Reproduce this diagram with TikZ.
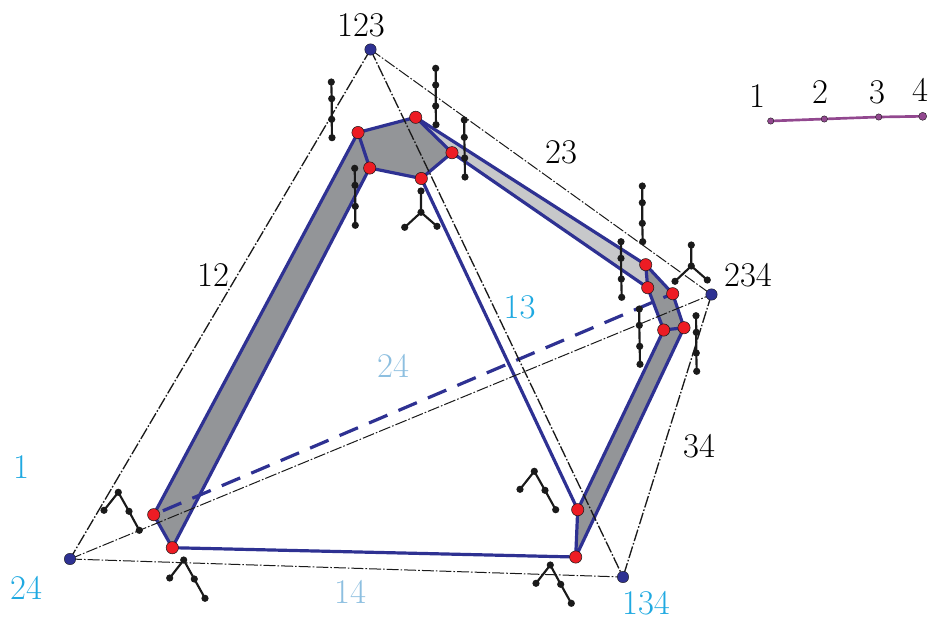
\documentclass[tikz,border=0pt]{standalone}
\usetikzlibrary{backgrounds}
\definecolor{bandblue}{HTML}{2E3192}
\definecolor{darkband}{HTML}{939598}
\definecolor{lightband}{HTML}{C7C8CA}
\definecolor{redvert}{HTML}{ED1C24}
\definecolor{cyanlab}{HTML}{1FA9E1}
\definecolor{palelab}{HTML}{8DBFE0}
\definecolor{pathpurple}{HTML}{92488F}
\definecolor{inkblack}{HTML}{1A1A1A}
\pgfdeclarelayer{fills}\pgfdeclarelayer{edges}\pgfdeclarelayer{frame}\pgfdeclarelayer{twigs}
\pgfsetlayers{fills,edges,frame,twigs,main}
\tikzset{
 apex/.style={circle,draw=inkblack,line width=.3pt,fill=bandblue,inner sep=0pt,minimum size=8.6pt},
 redpt/.style={circle,draw=inkblack,line width=.4pt,fill=redvert,inner sep=0pt,minimum size=9.2pt},
 twigpt/.style={circle,fill=inkblack,inner sep=0pt,minimum size=5.4pt},
 pathpt/.style={circle,draw=inkblack,line width=.3pt,fill=pathpurple,inner sep=0pt,minimum size=4.8pt},
 frameline/.style={inkblack,line width=1pt,dash pattern=on 9pt off 1.5pt on 1.2pt off 1.5pt},
 framethin/.style={inkblack,line width=.75pt,dash pattern=on 9pt off 1.5pt on 1.2pt off 1.5pt},
 bandedge/.style={bandblue,line width=2.4pt,line join=round},
 twigline/.style={inkblack,line width=1.6pt},
 lab/.style={inner sep=0pt,font=\fontsize{26}{28}\selectfont},
}
\newcommand{\chainfour}[9]{%
 \node[twigpt] (#1a) at (#2,#3) {};
 \node[twigpt] (#1b) at (#4,#5) {};
 \node[twigpt] (#1c) at (#6,#7) {};
 \node[twigpt] (#1d) at (#8,#9) {};
 \begin{pgfonlayer}{twigs}
 \draw[twigline] (#1a.center)--(#1b.center)--(#1c.center)--(#1d.center);
 \end{pgfonlayer}}
\newcommand{\forkfour}[9]{%
 \node[twigpt] (#1a) at (#2,#3) {};
 \node[twigpt] (#1b) at (#4,#5) {};
 \node[twigpt] (#1c) at (#6,#7) {};
 \node[twigpt] (#1d) at (#8,#9) {};
 \begin{pgfonlayer}{twigs}
 \draw[twigline] (#1a.center)--(#1b.center) (#1c.center)--(#1b.center) (#1d.center)--(#1b.center);
 \end{pgfonlayer}}
\begin{document}
\begin{tikzpicture}[x=.75pt,y=-.75pt]
\useasboundingbox (0,0) rectangle (932,622);
% apexes
\node[apex] (v123) at (370.5,49.5) {};
\node[apex] (v234) at (711.5,294.5) {};
\node[apex] (v24) at (70,559) {};
\node[apex] (v134) at (623,577) {};
% red vertices
\node[redpt] (A) at (358,132.5) {};
\node[redpt] (B) at (415.7,117.3) {};
\node[redpt] (C) at (452,152.7) {};
\node[redpt] (D) at (421.3,178.5) {};
\node[redpt] (E) at (369.7,168) {};
\node[redpt] (F) at (645.7,264.7) {};
\node[redpt] (G) at (647.7,287.7) {};
\node[redpt] (H) at (672.7,293.7) {};
\node[redpt] (I) at (684,327.7) {};
\node[redpt] (J) at (663.7,330) {};
\node[redpt] (K) at (153.7,514.7) {};
\node[redpt] (L) at (172.3,547.7) {};
\node[redpt] (M) at (577.7,509.7) {};
\node[redpt] (N) at (575.7,557) {};
\begin{pgfonlayer}{fills}
\fill[darkband] (A.center)--(B.center)--(C.center)--(D.center)--(E.center)--cycle;
\fill[darkband] (A.center)--(E.center)--(L.center)--(K.center)--cycle;
\fill[lightband] (B.center)--(F.center)--(G.center)--(C.center)--cycle;
\fill[darkband] (F.center)--(H.center)--(I.center)--(J.center)--(G.center)--cycle;
\fill[darkband] (J.center)--(I.center)--(N.center)--(M.center)--cycle;
\end{pgfonlayer}
\begin{pgfonlayer}{edges}
\draw[bandedge] (A.center)--(B.center)--(C.center)--(D.center)--(E.center)--(A.center);
\draw[bandedge] (A.center)--(K.center)--(L.center)--(E.center);
\draw[bandedge] (B.center)--(F.center)--(G.center)--(C.center);
\draw[bandedge] (F.center)--(H.center)--(I.center)--(J.center)--(G.center);
\draw[bandedge] (J.center)--(M.center)--(N.center)--(I.center);
\draw[bandedge] (L.center)--(N.center);
\draw[bandedge] (D.center)--(M.center);
\draw[bandedge,dash pattern=on 15pt off 9pt,dash phase=16.5pt] (K.center)--(H.center);
\end{pgfonlayer}
\begin{pgfonlayer}{frame}
\draw[frameline] (v123.center)--(v24.center);
\draw[framethin] (v123.center)--(v234.center);
\draw[frameline] (v123.center)--(v134.center);
\draw[frameline] (v234.center)--(v134.center);
\draw[framethin] (v24.center)--(v134.center);
\draw[framethin] (v24.center)--(v234.center);
\end{pgfonlayer}
% vertical chains
\chainfour{p}{331.3}{82}{331.7}{98.7}{331.7}{119.3}{332}{137.7}
\chainfour{q}{435.7}{68.3}{435.7}{85}{435.7}{106}{436}{124.7}
\chainfour{r}{464.3}{120}{464.3}{137.3}{464.7}{158}{465}{177}
\chainfour{s}{354.7}{168.3}{355}{185.3}{355.3}{206.3}{355.3}{225.3}
\chainfour{t}{642.3}{186}{642.3}{202.7}{642.3}{223.3}{642.7}{241.7}
\chainfour{u}{621}{241.7}{621}{258.3}{621.3}{279}{621.7}{297.3}
\chainfour{w}{639.3}{309}{639.3}{325.3}{639.7}{346.3}{640}{364.3}
\chainfour{x}{696}{315.7}{696.3}{332.3}{696.3}{353}{696.7}{371.3}
% bent chains
\chainfour{ca}{104}{510.3}{118.3}{492.3}{129}{511.3}{139.3}{530.3}
\chainfour{cb}{169.7}{578}{183.7}{560}{194.3}{579}{205}{598.3}
\chainfour{cc}{520}{489.3}{534.3}{471.3}{545}{490.3}{555.7}{509.7}
\chainfour{cd}{536}{583.3}{550.3}{565}{560.7}{584.3}{571.3}{603.3}
% forks
\forkfour{fa}{421}{191}{421}{212.3}{404.7}{227.3}{437}{226.3}
\forkfour{fb}{691.3}{245}{691.3}{266}{675}{281.3}{707.3}{280}
% path graph
\node[pathpt] (n1) at (770.7,121) {};
\node[pathpt] (n2) at (824.3,119) {};
\node[pathpt] (n3) at (878.7,117) {};
\node[pathpt,minimum size=6pt] (n4) at (922.7,116.3) {};
\begin{pgfonlayer}{twigs}
\draw[pathpurple,line width=2pt] (n1.center)--(n2.center)--(n3.center)--(n4.center);
\end{pgfonlayer}
% labels
\node[lab] (l123) at (361,25) {123};
\node[lab] (l234) at (748,275) {234};
\node[lab] (l12) at (213,275) {12};
\node[lab] (l23) at (561,152) {23};
\node[lab,text=cyanlab] (l13) at (519.5,307) {13};
\node[lab,text=palelab] (l24a) at (393,366) {24};
\node[lab] (l34) at (699,446) {34};
\node[lab,text=cyanlab] (l1a) at (21,467) {1};
\node[lab,text=cyanlab] (l24b) at (26,588) {24};
\node[lab,text=palelab] (l14) at (350,592) {14};
\node[lab,text=cyanlab] (l134) at (646,603) {134};
\node[lab] (t1) at (757,96) {1};
\node[lab] (t2) at (820,92) {2};
\node[lab] (t3) at (877,92) {3};
\node[lab] (t4) at (920,90) {4};
\end{tikzpicture}
\end{document}
